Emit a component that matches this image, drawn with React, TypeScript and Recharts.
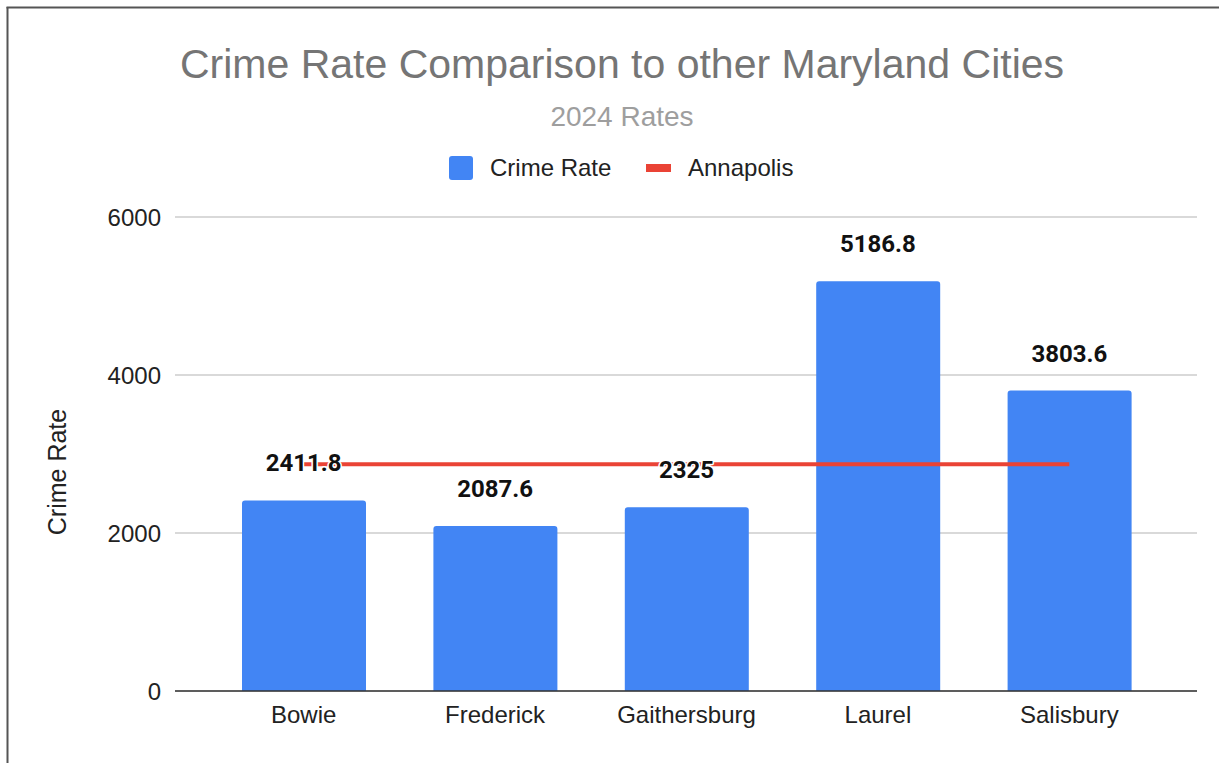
import React from "react";
import {
  ComposedChart,
  Bar,
  Line,
  XAxis,
  YAxis,
  CartesianGrid,
  LabelList,
} from "recharts";

const cities = ["Bowie", "Frederick", "Gaithersburg", "Laurel", "Salisbury"];
const crimeRate = [2411.8, 2087.6, 2325, 5186.8, 3803.6];
const annapolis = [2870, 2870, 2870, 2870, 2870];
const yTicks = [0, 2000, 4000, 6000];

const data = cities.map((c, i) => ({
  city: c,
  rate: crimeRate[i],
  annapolis: annapolis[i],
}));

const SANS = "'Liberation Sans', Arial, sans-serif";

const ValueLabel = (props: any) => {
  const { x, y, value } = props;
  return (
    <text
      x={x}
      y={y - 29}
      textAnchor="middle"
      fontFamily="Roboto, sans-serif"
      fontWeight={700}
      fontSize={24}
      fill="#111"
      stroke="#fff"
      strokeWidth={3}
      strokeLinejoin="round"
      paintOrder="stroke"
    >
      {value}
    </text>
  );
};

const YLabel = () => (
  <text
    x={57}
    y={472}
    transform="rotate(-90, 57, 472)"
    textAnchor="middle"
    dominantBaseline="central"
    fontFamily={SANS}
    fontSize={25}
    fill="#222"
  >
    Crime Rate
  </text>
);

export default function App() {
  return (
    <div
      style={{
        position: "absolute",
        left: 0,
        top: 0,
        width: 1219,
        height: 763,
        background: "#fff",
        overflow: "hidden",
      }}
    >
      <ComposedChart
        width={1219}
        height={763}
        data={data}
        margin={{ top: 217, right: 22, bottom: 32, left: 0 }}
      >
        <CartesianGrid vertical={false} stroke="#cccccc" strokeWidth={1.3} />
        <XAxis
          dataKey="city"
          height={40}
          tickLine={false}
          tickSize={0}
          tickMargin={15}
          padding={{ left: 33, right: 32 }}
          axisLine={{ stroke: "#333", strokeWidth: 1.6 }}
          tick={{ fontFamily: SANS, fontSize: 24, fill: "#222" }}
          interval={0}
        />
        <YAxis
          width={175}
          domain={[0, 6000]}
          ticks={yTicks}
          tickLine={false}
          axisLine={false}
          tickSize={0}
          tickMargin={14}
          tick={{ fontFamily: SANS, fontSize: 24, fill: "#222" }}
          label={{ content: YLabel }}
        />
        <Bar
          dataKey="rate"
          fill="#4285F4"
          barSize={124}
          radius={[3, 3, 0, 0]}
          isAnimationActive={false}
          legendType="none"
        />
        <Line
          dataKey="annapolis"
          stroke="#EA4335"
          strokeWidth={4}
          dot={false}
          activeDot={false}
          isAnimationActive={false}
          type="linear"
        />
        <Line
          dataKey="rate"
          stroke="none"
          dot={false}
          activeDot={false}
          isAnimationActive={false}
          legendType="none"
        >
          <LabelList dataKey="rate" content={ValueLabel} />
        </Line>
      </ComposedChart>
      <svg
        width={1219}
        height={763}
        style={{ position: "absolute", left: 0, top: 0, pointerEvents: "none" }}
      >
        <line x1={7.5} y1={7} x2={7.5} y2={763} stroke="#555" strokeWidth={2} />
        <line x1={6.5} y1={7.5} x2={1219} y2={7.5} stroke="#555" strokeWidth={2} />
        <text
          x={622}
          y={78}
          textAnchor="middle"
          fontFamily={SANS}
          fontSize={41}
          fill="#757575"
        >
          Crime Rate Comparison to other Maryland Cities
        </text>
        <text
          x={622}
          y={126}
          textAnchor="middle"
          fontFamily={SANS}
          fontSize={28}
          fill="#9e9e9e"
        >
          2024 Rates
        </text>
        <rect x={449} y={156} width={24} height={24} rx={3} fill="#4285F4" />
        <text x={490} y={176} fontFamily={SANS} fontSize={24} fill="#222">
          Crime Rate
        </text>
        <rect x={646} y={164} width={25} height={8} fill="#EA4335" />
        <text x={688} y={176} fontFamily={SANS} fontSize={24} fill="#222">
          Annapolis
        </text>
      </svg>
    </div>
  );
}
